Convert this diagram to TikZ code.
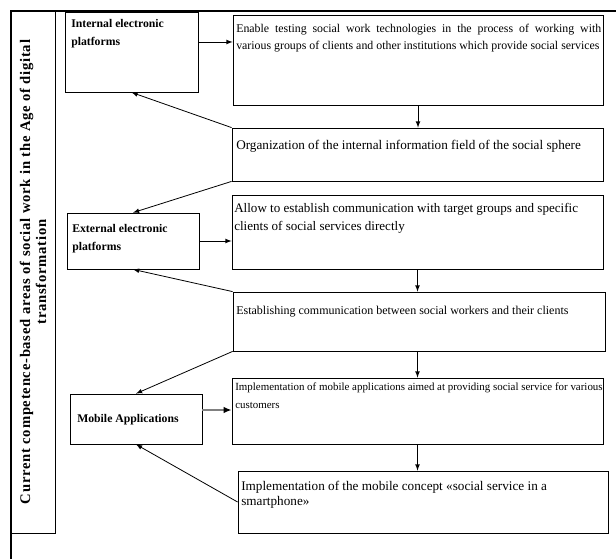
\documentclass[tikz,border=0pt]{standalone}
\usepackage{fontspec}
\setmainfont{Liberation Serif}
\usetikzlibrary{fit,arrows.meta}
\newcommand{\boxfont}[2]{\fontsize{#1}{#2}\selectfont}

\begin{document}
\begin{tikzpicture}[x=.75pt,y=-.75pt,>=latex,
	box/.style={draw,line width=.6pt,inner sep=0pt},
	txt/.style={anchor=north west,inner sep=0pt,align=left},
	head/.style={txt,font=\bfseries\boxfont{8.8}{13.5}},
	conn/.style={->,line width=.6pt}]

	\useasboundingbox (0,0) rectangle (616,559);

	\draw [line width=1.6pt] (11,559) -- (11,11) -- (616,11);
	\node [box,fit={(11,11) (55,533)}] (area) {};
	\node [rotate=90,align=center,inner sep=0pt,font=\bfseries\boxfont{11}{12}\addfontfeature{LetterSpace=5}] (areat) at (area.center)
		{Current competence-based areas of social work in the Age of digital\\transformation};

	\node [box,fit={(65,12) (198,92)}] (int) {};
	\node [box,fit={(67,213) (199,269)}] (ext) {};
	\node [box,fit={(70,394) (202,444)}] (mob) {};
	\node [head] (intt) at (71,19) {Internal electronic\\platforms};
	\node [head] (extt) at (72,224) {External electronic\\platforms};
	\node [head] (mobt) at (77,414) {Mobile Applications};

	\node [box,fit={(233,15) (603,105)}] (b1) {};
	\node [box,fit={(232,128) (603,181)}] (b2) {};
	\node [box,fit={(232,195) (603,269)}] (b3) {};
	\node [box,fit={(233,292) (605,351)}] (b4) {};
	\node [box,fit={(232,378) (603,444)}] (b5) {};
	\node [box,fit={(238,471) (608,533)}] (b6) {};

	\node [txt,align=justify,text width=273.75pt,font=\boxfont{8.9}{12.75}] (b1t) at (236,24)
		{Enable testing social work technologies in the process of working with\linebreak various groups of clients and other institutions which provide social services};
	\node [txt,font=\boxfont{9.9}{12.75}] (b2t) at (236,140)
		{Organization of the internal information field of the social sphere};
	\node [txt,font=\boxfont{9.8}{13.5}] (b3t) at (234,203)
		{Allow to establish communication with target groups and specific\\clients of social services directly};
	\node [txt,font=\boxfont{9}{12.75}] (b4t) at (236,306)
		{Establishing communication between social workers and their clients};
	\node [txt,font=\boxfont{8.2}{13.5}] (b5t) at (235,383)
		{Implementation of mobile applications aimed at providing social service for various\\customers};
	\node [txt,font=\boxfont{9.9}{11.5}] (b6t) at (241,481)
		{Implementation of the mobile concept «social service in a\\smartphone»};

	\draw [conn] (int.east |- 0,42) -- (b1.west |- 0,42);
	\draw [conn] (b1.south) -- (b1.south |- b2.north);
	\draw [conn] (b2.north west) -- (int.south);
	\draw [conn] (b2.south west) -- (ext.north);
	\draw [conn] (ext.east) -- (ext.east -| b3.west);
	\draw [conn] (b3.south) -- (b3.south |- b4.north);
	\draw [conn] (b4.north west) -- (ext.south);
	\draw [conn] (b4.south west) -- (mob.north);
	\draw [conn] (b5.north |- b4.south) -- (b5.north);
	\draw [gray,line width=1.6pt,-{Latex[color=black,length=6pt,width=5pt]}] (mob.east |- 0,410) -- (b5.west |- 0,410);
	\draw [conn] (b5.south) -- (b5.south |- b6.north);
	\draw [conn] (b6.west) -- (mob.south);

\end{tikzpicture}
\end{document}
